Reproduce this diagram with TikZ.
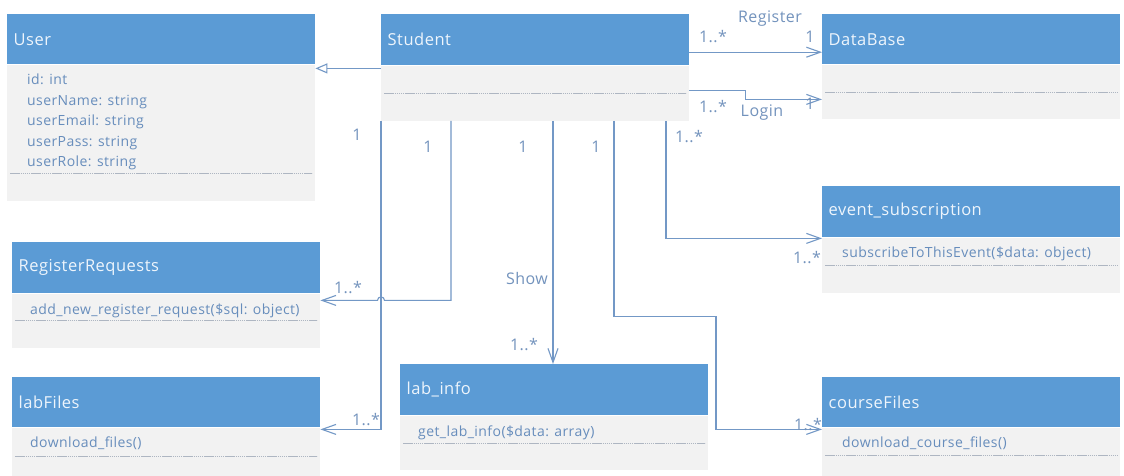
\documentclass[tikz,border=0pt]{standalone}
\usepackage{fontspec}
\setmainfont{Open Sans}
\newfontfamily\umlfont{Open Sans}[LetterSpace=3]
\usetikzlibrary{arrows.meta,calc}

\definecolor{hdrblue}{HTML}{5B9BD5}
\definecolor{bodygray}{HTML}{F2F2F2}
\definecolor{attrblue}{HTML}{678DBC}
\definecolor{multblue}{HTML}{7393BD}
\definecolor{linkblue}{HTML}{7398C6}
\definecolor{septone}{HTML}{AEB6C2}
\definecolor{hdrtext}{HTML}{EEF5FC}

\tikzset{
  hdr/.style={fill=hdrblue, draw=none, inner sep=0pt, anchor=north west},
  bdy/.style={fill=bodygray, draw=none, inner sep=0pt, anchor=north west},
  title/.style={text=hdrtext, font=\umlfont\fontsize{16.5}{19}\selectfont, inner sep=0pt, anchor=west},
  attr/.style={text=attrblue, font=\umlfont\fontsize{14}{16}\selectfont, inner sep=0pt, anchor=base west},
  sepline/.style={draw=septone, line width=0.8pt, dash pattern=on 1.5pt off 0.6pt},
  link/.style={draw=linkblue, line width=1.1pt, -{Straight Barb[length=14pt,width=10pt]}},
  gen/.style={draw=linkblue, line width=1.1pt, -{Triangle[open,length=12pt,width=10pt,fill=white]}},
  mult/.style={text=multblue, font=\umlfont\fontsize{16}{18}\selectfont, inner sep=0pt}
}

% #1 name, #2 left, #3 top, #4 width, #5 header height, #6 body height,
% #7 separator depth below the header, #8 class title
\newcommand\umlclass[8]{%
  \node[hdr, minimum width=#4pt, minimum height=#5pt] (#1) at (#2,#3) {};
  \node[bdy, minimum width=#4pt, minimum height=#6pt] (#1-b) at (#1.south west) {};
  \node[title] (#1-t) at ([xshift=6.5pt]#1.west) {#8};
  \draw[sepline] ([xshift=3pt,yshift=-#7pt]#1-b.north west) -- ([xshift=-3pt,yshift=-#7pt]#1-b.north east);
}

\begin{document}
\begin{tikzpicture}[x=1pt, y=-1pt]
\useasboundingbox (0,0) rectangle (1124,476);
\fill[white] (0,0) rectangle (1124,476);

% classes
\umlclass{user}{7}{14}{308}{50}{136}{109}{User}
\umlclass{student}{381}{14}{308}{51}{55}{28}{Student}
\umlclass{database}{822}{14}{298}{50}{54}{28}{DataBase}
\umlclass{event}{822}{186}{298}{51}{55}{28}{event\_subscription}
\umlclass{regreq}{12}{242}{308}{51}{54}{27}{RegisterRequests}
\umlclass{labfiles}{12}{377}{308}{50}{49}{29}{labFiles}
\umlclass{labinfo}{400}{364}{308}{51}{54}{28}{lab\_info}
\umlclass{coursefiles}{822}{377}{298}{50}{49}{28}{courseFiles}

% attributes and operations
\node[attr] (user-a1) at ([xshift=20pt,yshift=-20.5pt]user-b.north west) {id: int};
\node[attr] (user-a2) at ([yshift=-20.5pt]user-a1.base west) {userName: string};
\node[attr] (user-a3) at ([yshift=-20.5pt]user-a2.base west) {userEmail: string};
\node[attr] (user-a4) at ([yshift=-20.5pt]user-a3.base west) {userPass: string};
\node[attr] (user-a5) at ([yshift=-20.5pt]user-a4.base west) {userRole: string};
\node[attr] (regreq-o) at ([xshift=18pt,yshift=-21.5pt]regreq-b.north west) {add\_new\_register\_request(\$sql: object)};
\node[attr] (labfiles-o) at ([xshift=18pt,yshift=-20.5pt]labfiles-b.north west) {download\_files()};
\node[attr] (labinfo-o) at ([xshift=18pt,yshift=-21.5pt]labinfo-b.north west) {get\_lab\_info(\$data: array)};
\node[attr] (event-o) at ([xshift=20pt,yshift=-20.5pt]event-b.north west) {subscribeToThisEvent(\$data: object)};
\node[attr] (coursefiles-o) at ([xshift=20pt,yshift=-20.5pt]coursefiles-b.north west) {download\_course\_files()};

% departure points under Student
\coordinate (p-reg)    at ([xshift=70pt]student-b.south west);
\coordinate (p-show)   at ([xshift=172pt]student-b.south west);
\coordinate (p-course) at ([xshift=233pt]student-b.south west);
\coordinate (p-event)  at ([xshift=285pt]student-b.south west);
\coordinate (rr)       at ([yshift=-7pt]regreq-b.north east);

% generalization
\draw[gen] ([yshift=-3pt]student-b.north west) -- ([yshift=-3pt]student-b.north west -| user-b.east);

% associations
\draw[link] ([yshift=-12.5pt]student.east) -- ([yshift=-12.5pt]student.east -| database.west);
\draw[link] ([yshift=-25pt]student-b.north east) -- ++(56,0) |- ([yshift=-35pt]database-b.north west);
\draw[link] (p-event) |- ([yshift=-1pt]event-b.north west);
\draw[link] (p-reg) |- ($(rr -| student-b.west)+(3.5,0)$) arc[start angle=0, end angle=180, radius=3.5pt] -- (rr);
\draw[link] (student-b.south west) |- ([yshift=-2pt]labfiles-b.north east);
\draw[link] (p-show) -- (p-show |- labinfo.north);
\draw[link] (p-course) -- ++(0,196) -- ++(102,0) |- ([yshift=-2pt]coursefiles-b.north west);

% multiplicities and association names
\node[mult] (m1)  at (357,135) {1};
\node[mult] (m2)  at (428,147) {1};
\node[mult] (m3)  at (523,147) {1};
\node[mult] (m4)  at (596,147) {1};
\node[mult] (m5)  at (689,137) {1..*};
\node[mult] (m6)  at (713,37)  {1..*};
\node[mult] (m7)  at (770,19)  {Register};
\node[mult] (m8)  at (810,37)  {1};
\node[mult] (m9)  at (713,107) {1..*};
\node[mult] (m10) at (762,113) {Login};
\node[mult] (m11) at (810,104) {1};
\node[mult] (m12) at (348,288) {1..*};
\node[mult] (m13) at (366,420) {1..*};
\node[mult] (m14) at (527,278) {Show};
\node[mult] (m15) at (524,345) {1..*};
\node[mult] (m16) at (807,258) {1..*};
\node[mult] (m17) at (808,425) {1..*};
\end{tikzpicture}
\end{document}
